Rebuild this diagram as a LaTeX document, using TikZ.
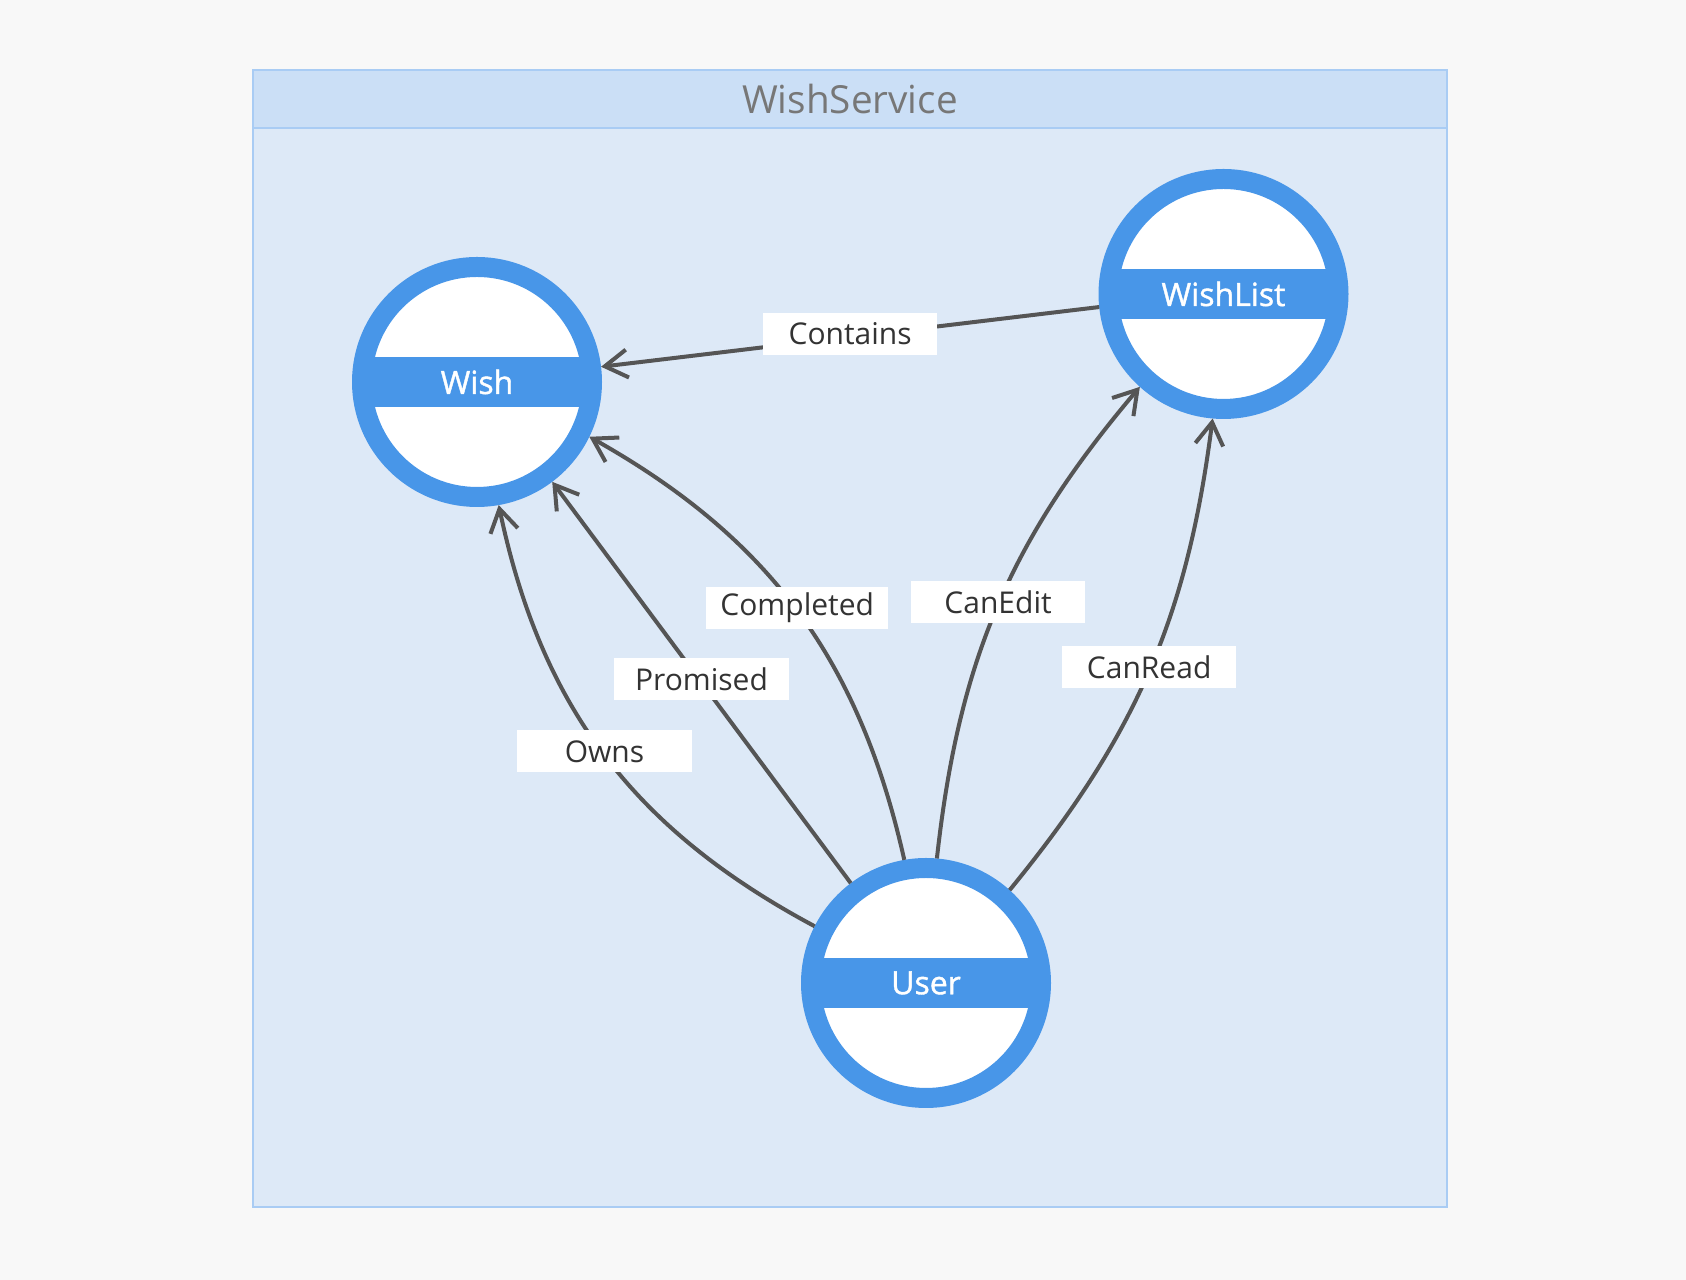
\documentclass[tikz,border=0pt]{standalone}
\usepackage{fontspec}
\setmainfont{Open Sans}
\newfontfamily\entityfont[FakeBold=1.2]{Open Sans}
\usepackage{xcolor}
\definecolor{bgcolor}{HTML}{F8F8F8}
\definecolor{groupfill}{HTML}{DDE9F7}
\definecolor{headfill}{HTML}{CBDFF6}
\definecolor{groupborder}{HTML}{A9CCF4}
\definecolor{entitycolor}{HTML}{4896E8}
\definecolor{linkcolor}{HTML}{555555}
\definecolor{labelcolor}{HTML}{333333}
\definecolor{titlecolor}{HTML}{777777}
\usetikzlibrary{
  arrows.meta,
}

\begin{document}
\begin{tikzpicture}[x=0.75pt, y=0.75pt, >={Straight Barb[length=17pt,width=21pt]}]
	\tikzstyle{every node}=[font=\fontsize{22.5}{27}\selectfont]
	\tikzstyle{entity}=[circle, draw=entitycolor, line width=15pt, fill=white, minimum size=172.5pt, text=white, font=\entityfont\fontsize{24}{29}\selectfont, path picture={\fill[entitycolor] ([yshift=-18.75pt]path picture bounding box.west) rectangle ([yshift=18.75pt]path picture bounding box.east);}]
	\tikzstyle{relation}=[fill=white, text=labelcolor, minimum width=131pt, minimum height=31.5pt, inner xsep=10.5pt, inner ysep=0pt, yshift=2.5pt]
	\tikzstyle{link}=[->, draw=linkcolor, line width=3pt]
	% page and container
	\fill[bgcolor] (0,0) rectangle (1686,1280);
	\useasboundingbox (0,0) rectangle (1686,1280);
	\draw[groupborder, fill=groupfill, line width=1.5pt] (253,73) rectangle (1447,1210);
	\draw[groupborder, fill=headfill, line width=1.5pt] (253,1152) rectangle (1447,1210);
	\node (title)[text=titlecolor, font=\fontsize{29}{35}\selectfont] at (850,1181) {WishService};
	% Entities
	\node (wish)[entity] at (477,898) {Wish};
	\node (wishlist)[entity] at (1223.5,986) {WishList};
	\node (user)[entity] at (926,297) {User};
	% Relations
	\draw[link] (wishlist.186) -- node[relation] {Contains} (wish.7);
	\draw[link] (user.153) to[bend left=25] node[relation] {Owns} (wish.-80);
	\draw[link] (user.127) -- node[relation] {Promised} (wish.-53);
	\draw[link] (user.100) to[bend right=24] node[relation] {Completed} (wish.-26);
	\draw[link] (user.85) to[bend left=17] node[relation] {CanEdit} (wishlist.228);
	\draw[link] (user.48) to[bend right=16] node[relation] {CanRead} (wishlist.265);
\end{tikzpicture}
\end{document}
